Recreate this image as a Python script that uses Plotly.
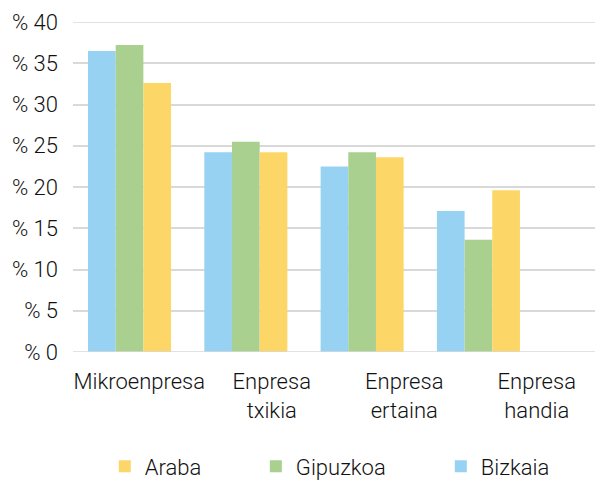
import plotly.graph_objects as go

categories = ["Mikroenpresa", "Enpresa<br>txikia", "Enpresa<br>ertaina", "Enpresa<br>handia"]
bizkaia = [36.5, 24.2, 22.5, 17.1]
gipuzkoa = [37.2, 25.5, 24.2, 13.6]
araba = [32.6, 24.2, 23.6, 19.6]
y_ticks = [0, 5, 10, 15, 20, 25, 30, 35, 40]
y_ticktext = ["% " + str(v) for v in y_ticks]

colors = {"Bizkaia": "#98D2F3", "Gipuzkoa": "#A9D08E", "Araba": "#FCD767"}
FONT = "Roboto"
TXT = "#111111"
FS = 22

# bar axis range; category labels are spread evenly over the full plot width
xr = [-0.486, 4.071]
n = len(categories)
label_pos = [xr[0] + (i + 0.5) * (xr[1] - xr[0]) / n for i in range(n)]
idx = list(range(n))

fig = go.Figure()
fig.add_trace(go.Bar(name="Bizkaia", x=idx, y=bizkaia,
                     marker=dict(color=colors["Bizkaia"], line=dict(width=0)),
                     legend="legend3"))
fig.add_trace(go.Bar(name="Gipuzkoa", x=idx, y=gipuzkoa,
                     marker=dict(color=colors["Gipuzkoa"], line=dict(width=0)),
                     legend="legend2"))
fig.add_trace(go.Bar(name="Araba", x=idx, y=araba,
                     marker=dict(color=colors["Araba"], line=dict(width=0)),
                     legend="legend"))

font = dict(family=FONT, size=FS, color=TXT, weight=300)
leg_common = dict(orientation="h", yanchor="middle", xanchor="left", y=-0.347,
                  font=font, bgcolor="rgba(0,0,0,0)")

fig.update_layout(
    width=595, height=474,
    margin=dict(l=65, r=0, t=14, b=130, autoexpand=False),
    paper_bgcolor="white", plot_bgcolor="white",
    barmode="group", bargap=0.286, bargroupgap=0,
    font=font,
    showlegend=True,
    legend=dict(x=0.060, **leg_common),
    legend2=dict(x=0.345, **leg_common),
    legend3=dict(x=0.694, **leg_common),
    xaxis=dict(type="linear", range=xr, tickvals=label_pos, ticktext=categories,
               showgrid=False, zeroline=False, showline=False, ticks="",
               ticklabelstandoff=14, automargin=False, tickfont=font),
    yaxis=dict(range=[0, 40], tickvals=y_ticks, ticktext=y_ticktext,
               showgrid=True, gridcolor="#d9d9d9", gridwidth=1.5,
               zeroline=False, showline=False, ticks="", automargin=False,
               ticklabelstandoff=14, tickfont=font),
)
fig.add_hline(y=0, line=dict(color="#d9d9d9", width=1.5))
fig.add_hline(y=40, line=dict(color="#d9d9d9", width=1.5))

fig.write_html("out.html")
